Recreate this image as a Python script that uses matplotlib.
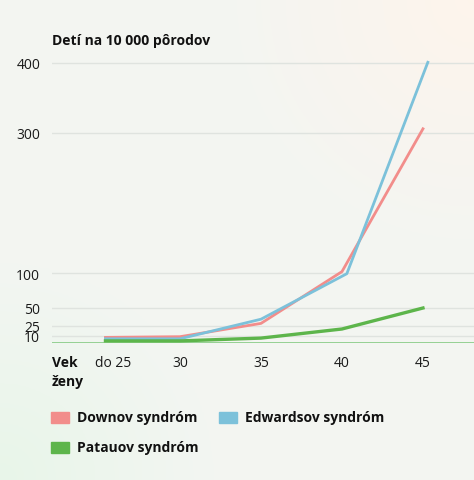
import numpy as np
import matplotlib.pyplot as plt
from matplotlib.patches import Rectangle

# data (children per 10 000 births)
ages = [25.4, 30, 35, 40, 45]
ages_edwards = [25.4, 30, 35, 40.3, 45.3]
down = [8, 9, 28, 102, 306]
edwards = [6, 6, 34, 99, 401]
patau = [3, 3, 7, 20, 50]

xtick_pos = [25.9, 30, 35, 40, 45]
xtick_labels = ["do 25", "30", "35", "40", "45"]
ytick_vals = [10, 25, 50, 100, 300, 400]

C_DOWN = "#f28d8b"
C_EDW = "#7cc1da"
C_PAT = "#5db54b"

plt.rcParams["font.family"] = ["Open Sans", "DejaVu Sans"]

W, H = 474, 481
fig = plt.figure(figsize=(W / 100, H / 100), dpi=100)

# soft background gradient
bg = fig.add_axes([0, 0, 1, 1], zorder=-10)
yy, xx = np.mgrid[0:1:200j, 0:1:200j]
base = np.array([0.953, 0.961, 0.949])
warm = np.array([0.995, 0.960, 0.925])
green = np.array([0.90, 0.965, 0.905])
w_warm = np.clip(1 - np.hypot(1 - xx, 1 - yy) / 0.55, 0, 1)[..., None]
w_green = np.clip(1 - np.hypot(xx, yy) / 0.45, 0, 1)[..., None]
img = base * (1 - w_warm - w_green * 0.8) + warm * w_warm + green * w_green * 0.8
bg.imshow(img, origin="lower", extent=[0, 1, 0, 1], aspect="auto")
bg.axis("off")

ax = fig.add_axes([52 / W, 1 - 344 / H, 1 - 52 / W, 294 / H])
ax.patch.set_alpha(0)
ax.set_xlim(22.1, 48.15)
ax.set_ylim(0, 420)

for v in ytick_vals:
    ax.axhline(v, color="#dfe3df", lw=1, zorder=1)
ax.axhline(0, color="#7cc77a", lw=1.1, zorder=2)

ax.plot(ages, down, color=C_DOWN, lw=2, zorder=3, clip_on=False)
ax.plot(ages_edwards, edwards, color=C_EDW, lw=2, zorder=4, clip_on=False)
ax.plot(ages, patau, color=C_PAT, lw=2.4, zorder=5, clip_on=False)

ax.set_yticks(ytick_vals)
ax.set_yticklabels([str(v) for v in ytick_vals])
ax.set_xticks(xtick_pos)
ax.set_xticklabels(xtick_labels)
ax.tick_params(axis="both", length=0, labelsize=10, colors="#1a1a1a")
ax.tick_params(axis="y", pad=8.5)
ax.tick_params(axis="x", pad=8.5)
for s in ax.spines.values():
    s.set_visible(False)

fig.text(52 / W, 1 - 41 / H, "Detí na 10 000 pôrodov", fontsize=10,
         fontweight="bold", va="center", ha="left", color="#111111")
fig.text(52 / W, 1 - 363 / H, "Vek", fontsize=10, fontweight="bold",
         va="center", ha="left", color="#111111")
fig.text(52 / W, 1 - 382 / H, "ženy", fontsize=10, fontweight="bold",
         va="center", ha="left", color="#111111")

# legend
legend_items = [("Downov syndróm", C_DOWN, 51, 418),
                ("Edwardsov syndróm", C_EDW, 219, 418),
                ("Patauov syndróm", C_PAT, 51, 448)]
for label, col, x0, yc in legend_items:
    fig.patches.append(Rectangle((x0 / W, 1 - (yc + 6) / H), 18 / W, 11 / H,
                                 transform=fig.transFigure, color=col))
    fig.text((x0 + 26) / W, 1 - yc / H, label, fontsize=10, fontweight="bold",
             va="center", ha="left", color="#111111")

fig.savefig("out.png", dpi=100)
